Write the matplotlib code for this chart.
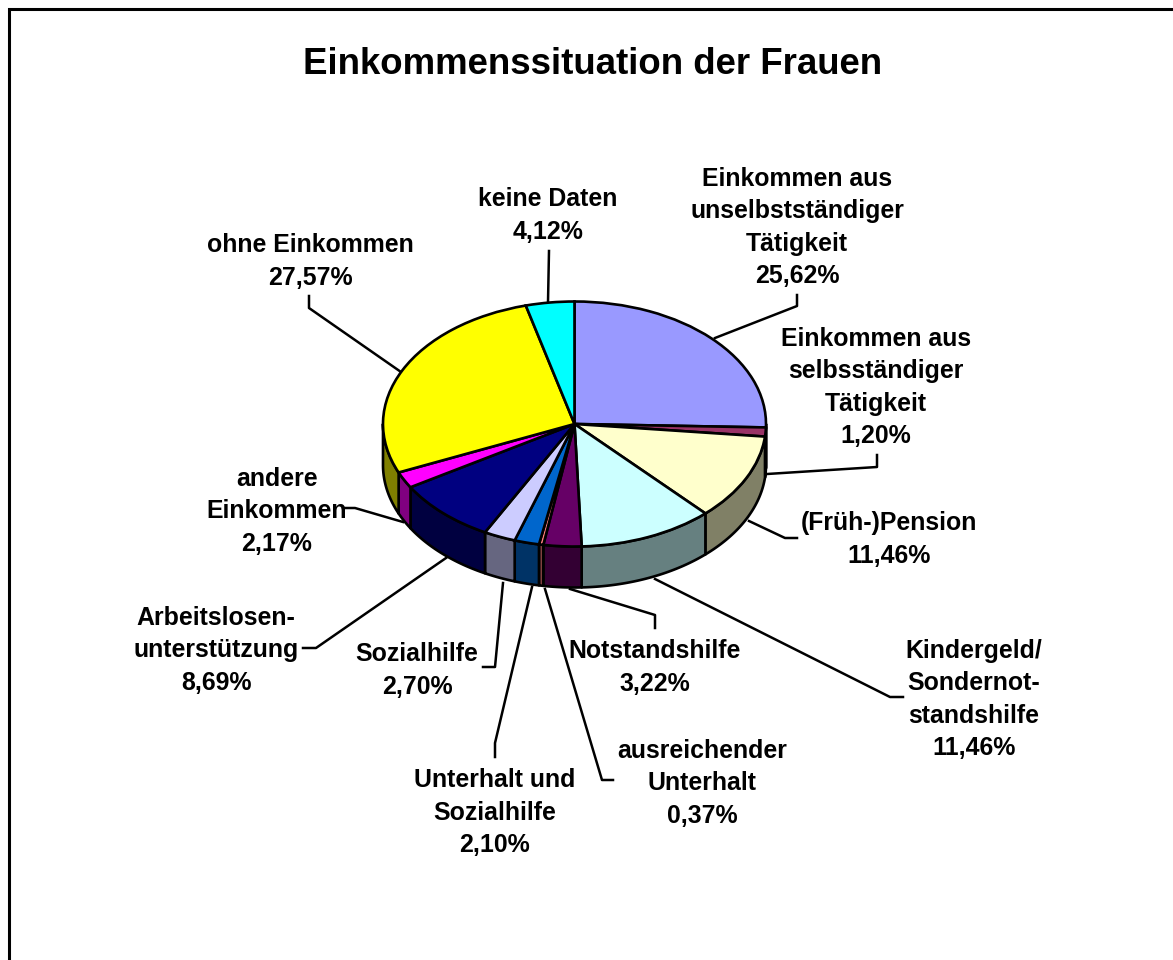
"""Income situation of women as a tilted 3D style pie chart."""

import numpy as np
import matplotlib
matplotlib.use('Agg')
import matplotlib.pyplot as plt
from matplotlib.colors import to_rgb

plt.rcParams['font.family'] = ['Liberation Sans', 'DejaVu Sans']

TITLE = 'Einkommenssituation der Frauen'

CATEGORIES = [
    'Einkommen aus\nunselbstständiger\nTätigkeit',
    'Einkommen aus\nselbsständiger\nTätigkeit',
    '(Früh-)Pension',
    'Kindergeld/\nSondernot-\nstandshilfe',
    'Notstandshilfe',
    'ausreichender\nUnterhalt',
    'Unterhalt und\nSozialhilfe',
    'Sozialhilfe',
    'Arbeitslosen-\nunterstützung',
    'andere\nEinkommen',
    'ohne Einkommen',
    'keine Daten',
]
VALUES = [25.62, 1.20, 11.46, 11.46, 3.22, 0.37, 2.10, 2.70, 8.69, 2.17, 27.57, 4.12]
COLORS = ['#9999FF', '#993366', '#FFFFCC', '#CCFFFF', '#660066', '#FF8080',
          '#0066CC', '#CCCCFF', '#000080', '#FF00FF', '#FFFF00', '#00FFFF']

# Layout in image pixels
WIDTH, HEIGHT = 1173, 960
CENTER_X, CENTER_Y = 574.5, 424
RADIUS_X, RADIUS_Y = 191.5, 122.5
DEPTH = 41
LABEL_POS = [(797, 227.5), (876, 387.5), (889, 539.5), (974, 699.5), (655, 667.5), (702, 783.5),
             (495, 812.5), (417, 670.5), (216, 650.5), (277, 511.5), (310, 261.5), (548, 215.5)]
LEADERS = [
    [(715, 338), (797, 306), (797, 295)],
    [(767, 474), (877, 467), (877, 455)],
    [(749, 521), (785, 538), (797, 538)],
    [(655, 579), (890, 697), (903, 697)],
    [(570, 589), (655, 615), (655, 628)],
    [(545, 589), (602, 780), (613, 780)],
    [(532, 587), (495, 743), (495, 757)],
    [(503, 583), (495, 667), (483, 667)],
    [(446, 558), (316, 648), (303, 648)],
    [(403, 522), (355, 508), (343, 508)],
    [(401, 372), (309, 308), (309, 296)],
    [(548, 302), (549, 251)],
]


def draw_walls(ax, values, colors, depth):
    """Draw the darker outer wall for the part of each slice facing the viewer."""
    shares = np.array(values) / sum(values) * 360
    ends = np.cumsum(shares)
    for start, end, color in zip(ends - shares, ends, colors):
        # Angles run clockwise from the top, the front half is 90 to 270
        low, high = max(start, 90), min(end, 270)
        if low >= high:
            continue
        angle = np.radians(90 - np.linspace(low, high, 60))
        x = np.cos(angle)
        y = np.sin(angle)
        dark = tuple(c * 0.5 for c in to_rgb(color))
        ax.fill(np.r_[x, x[::-1]], np.r_[y, y[::-1] - depth],
                facecolor=dark, edgecolor='black', linewidth=1.9, joinstyle='round')


fig = plt.figure(figsize=(WIDTH / 100, HEIGHT / 100), dpi=100, facecolor='white')

# Page layer: frame, title, labels and leader lines
page = fig.add_axes([0, 0, 1, 1])
page.set_xlim(0, WIDTH)
page.set_ylim(HEIGHT, 0)
page.axis('off')
page.plot([9, 9, WIDTH], [HEIGHT, 9, 9], color='black', linewidth=2.2, solid_joinstyle='miter')
page.text(593, 64, TITLE, ha='center', va='center', fontsize=26.4, fontweight='bold')

for name, value, pos, leader in zip(CATEGORIES, VALUES, LABEL_POS, LEADERS):
    text = f'{name}\n{value:.2f}%'.replace('.', ',')
    page.text(pos[0], pos[1], text, ha='center', va='center', fontsize=17.9,
              fontweight='bold', linespacing=1.45)
    xs, ys = zip(*leader)
    page.plot(xs, ys, color='black', linewidth=1.8)

# Pie layer: the unit circle is squashed to an ellipse by the axis limits
pie_ax = fig.add_axes([0, 0, 1, 1])
pie_ax.patch.set_visible(False)
draw_walls(pie_ax, VALUES, COLORS, DEPTH / RADIUS_Y)
pie_ax.pie(VALUES, colors=COLORS, startangle=90, counterclock=False, radius=1,
           wedgeprops={'edgecolor': 'black', 'linewidth': 1.9})
pie_ax.set_aspect('auto')
pie_ax.set_xlim(-CENTER_X / RADIUS_X, (WIDTH - CENTER_X) / RADIUS_X)
pie_ax.set_ylim((CENTER_Y - HEIGHT) / RADIUS_Y, CENTER_Y / RADIUS_Y)
pie_ax.axis('off')

fig.savefig('out.png', dpi=100)
plt.close(fig)
